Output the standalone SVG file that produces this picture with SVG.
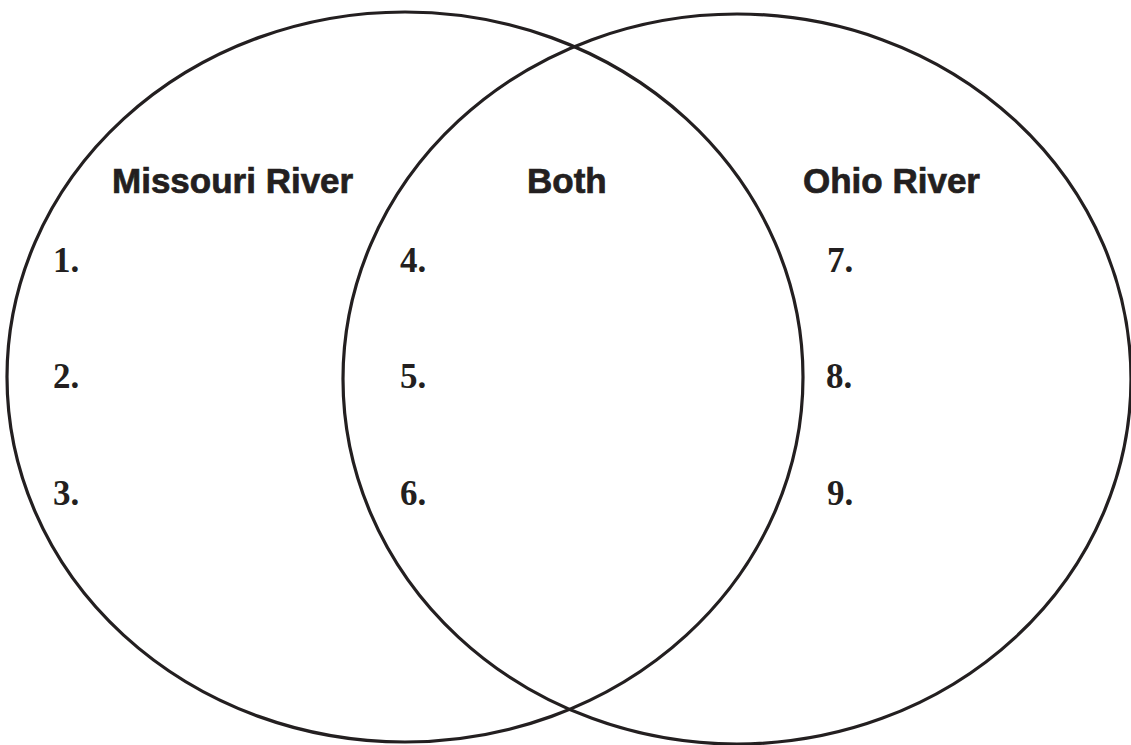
<svg xmlns="http://www.w3.org/2000/svg" width="1131" height="745" viewBox="0 0 1131 745">
<style>
.c{fill:none;stroke:#231f20;stroke-width:3.2}
.h{font-family:"Liberation Sans",Arial,sans-serif;font-weight:bold;font-size:35px;fill:#231f20;stroke:#231f20;stroke-width:0.7}
.n{font-family:"Liberation Serif","Times New Roman",serif;font-weight:bold;font-size:35px;fill:#231f20}
</style>
<rect width="1131" height="745" fill="#fff"/>
<g id="missouri">
<ellipse class="c" cx="405" cy="377" rx="398" ry="365"/>
<text class="h" x="112" y="193">Missouri River</text>
<text class="n" x="53" y="272">1.</text>
<text class="n" x="53" y="388">2.</text>
<text class="n" x="53" y="505">3.</text>
</g>
<g id="ohio">
<ellipse class="c" cx="737" cy="379" rx="394" ry="365"/>
<text class="h" x="803" y="193">Ohio River</text>
<text class="n" x="827" y="272">7.</text>
<text class="n" x="826" y="388">8.</text>
<text class="n" x="827" y="505">9.</text>
</g>
<g id="both">
<text class="h" x="527" y="193">Both</text>
<text class="n" x="400" y="272">4.</text>
<text class="n" x="400" y="388">5.</text>
<text class="n" x="400" y="505">6.</text>
</g>
<g id="connectors"/>
</svg>
